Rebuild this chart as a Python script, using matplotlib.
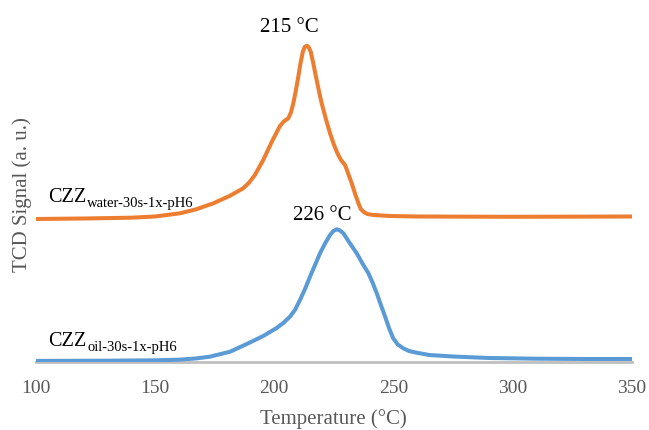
import matplotlib
matplotlib.use("Agg")
import matplotlib.pyplot as plt

# ---- data ----
temp_water = [100, 120, 140, 150, 160.5, 167, 174.5, 181.5, 187, 189.5, 191.9, 195.4, 199,
              202.4, 204, 205.9, 207, 208, 209, 210.1, 211, 212, 212.8, 213.6, 214.4, 215.3,
              216.4, 217.5, 218.7, 219.9, 221.6, 223.4, 225, 226.5, 228, 229.7, 231, 232.5,
              234, 235.3, 236.3, 237.4, 239, 241.6, 248.6, 260, 300, 350]
signal_water = [142.5, 143, 143.8, 145, 148.2, 152, 158.2, 165.8, 173.2, 179, 186.5, 201.5,
                219.8, 235.5, 240, 243.2, 249, 258.2, 270, 284.8, 298, 309.8, 314.5, 315.8,
                314.5, 309.8, 298, 284.8, 271, 258.2, 243, 228.2, 217, 208.2, 201.5, 196.5,
                188, 178.2, 167, 158.2, 152.5, 149.8, 147.5, 146.5, 145.5, 145, 144.7, 145]

temp_oil = [100, 130, 150, 160, 167, 173, 181.5, 188.5, 195.4, 201, 203.8, 206.6, 208.8,
            210.8, 213, 215, 217.1, 219.2, 221.3, 223.4, 224.8, 226.2, 227.6, 229, 231.5,
            234.6, 237, 239.5, 241.3, 243, 244.8, 246.5, 248.2, 249.9, 251.8, 254.1, 256.5,
            259.7, 265, 275, 290, 310, 330, 350]
signal_oil = [0.6, 0.8, 1.2, 1.8, 3.0, 4.8, 9.8, 17.5, 25.5, 33.5, 38.5, 44.8, 52, 61.5, 73,
              84.8, 96.5, 108.2, 118, 126.5, 130.5, 132.2, 131, 128.2, 119, 108.2, 98, 88.2,
              78.5, 68.2, 56, 44.8, 33, 23.2, 17, 13.2, 10.5, 8.8, 6.5, 5.0, 3.5, 2.8, 2.5,
              2.5]

xticks = [100, 150, 200, 250, 300, 350]
peak_labels = ["215 °C", "226 °C"]
sample_main = "CZZ"
sample_subs = ["water-30s-1x-pH6", "oil-30s-1x-pH6"]

# ---- style ----
plt.rcParams['font.family'] = ['Liberation Serif', 'DejaVu Serif']
ORANGE = '#ED7D31'
BLUE = '#5B9BD5'
GRAY_TXT = '#595959'
AXIS_GRAY = '#BFBFBF'

fig = plt.figure(figsize=(6.49, 4.30), dpi=100)
ax = fig.add_axes([35.7 / 649, 1 - 361.5 / 430, (632 - 35.7) / 649, 350 / 430])

ax.plot(temp_water, signal_water, color=ORANGE, lw=2.9, solid_joinstyle='round',
        solid_capstyle='butt', zorder=3)
ax.plot(temp_oil, signal_oil, color=BLUE, lw=2.9, solid_joinstyle='round',
        solid_capstyle='butt', zorder=3)

ax.set_xlim(100, 350)
ax.set_ylim(0, 350)
ax.set_xticks(xticks)
ax.set_xticklabels([str(t) for t in xticks])
ax.set_yticks([])
for s in ['top', 'right', 'left']:
    ax.spines[s].set_visible(False)
ax.spines['bottom'].set_color(AXIS_GRAY)
ax.spines['bottom'].set_linewidth(2.0)
ax.spines['bottom'].set_zorder(2)
ax.tick_params(axis='x', length=0, pad=13, labelsize=14, labelcolor=GRAY_TXT)

ax.set_xlabel("Temperature (°C)", fontsize=15, color=GRAY_TXT, labelpad=9)
ax.set_ylabel("TCD Signal (a. u.)", fontsize=15, color=GRAY_TXT)
ax.yaxis.set_label_coords(-0.007, 0.476)

# peak labels
ax.text(206.2, 329.8, peak_labels[0], fontsize=15, ha='center', va='baseline', color='black')
ax.text(220.3, 141.5, peak_labels[1], fontsize=15, ha='center', va='baseline', color='black')

# sample labels with subscripts
for base_y, sub, drop in [(159.8, sample_subs[0], 4.0), (15.5, sample_subs[1], 3.6)]:
    t = ax.text(105.3, base_y, sample_main, fontsize=14.5, ha='left', va='baseline',
                color='black')
    ax.annotate(sub, xy=(1, base_y), xycoords=(t, 'data'), xytext=(0.3, -drop),
                textcoords='offset points', fontsize=10.5, ha='left', va='baseline',
                color='black')

fig.savefig("out.png", dpi=100)
